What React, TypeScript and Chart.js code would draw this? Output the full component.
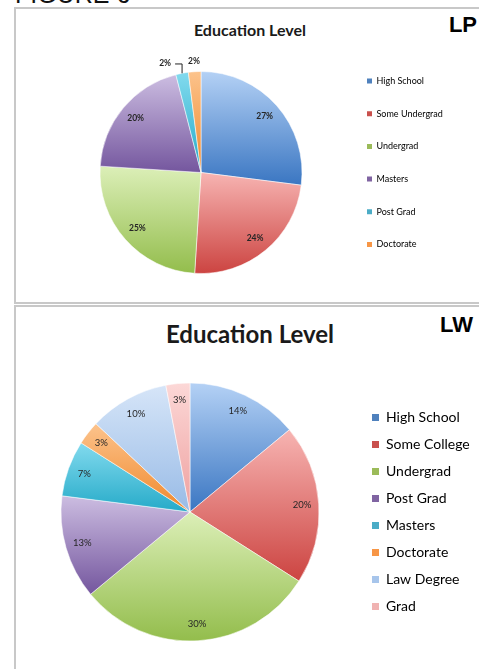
import React, { useEffect, useRef } from 'react';
import { Chart, registerables } from 'chart.js';

Chart.register(...registerables);

// ---------- data ----------
const figureLabel = 'FIGURE 6';
const chartTitle = 'Education Level';
const lpTag = 'LP';
const lwTag = 'LW';

const lpCategories = ['High School', 'Some Undergrad', 'Undergrad', 'Masters', 'Post Grad', 'Doctorate'];
const lpValues = [27, 24, 25, 20, 2, 2];

const lwCategories = ['High School', 'Some College', 'Undergrad', 'Post Grad', 'Masters', 'Doctorate', 'Law Degree', 'Grad'];
const lwValues = [14, 20, 30, 13, 7, 3, 10, 3];

// ---------- styles ----------
type Swatch = { light: string; dark: string; solid: string };
const BLUE: Swatch = { light: '#b4d1f5', dark: '#3a76c2', solid: '#4f81bd' };
const RED: Swatch = { light: '#f7b4b2', dark: '#cc4441', solid: '#c9504d' };
const GREEN: Swatch = { light: '#dcefb8', dark: '#93bd4c', solid: '#9bbb59' };
const PURPLE: Swatch = { light: '#ccbde1', dark: '#74569e', solid: '#8064a2' };
const CYAN: Swatch = { light: '#82daee', dark: '#25aac8', solid: '#4bacc6' };
const ORANGE: Swatch = { light: '#fcc38c', dark: '#f0882b', solid: '#f79646' };
const LIGHTBLUE: Swatch = { light: '#d6e5f8', dark: '#98bbe6', solid: '#a7c5eb' };
const PINK: Swatch = { light: '#fcd8d7', dark: '#eea09f', solid: '#f0b3b2' };

const lpColors = [BLUE, RED, GREEN, PURPLE, CYAN, ORANGE];
const lwColors = [BLUE, RED, GREEN, PURPLE, CYAN, ORANGE, LIGHTBLUE, PINK];

const FONT = 'Lato, "Open Sans", sans-serif';

type PieSpec = {
  labels: string[];
  values: number[];
  colors: Swatch[];
  box: { left: number; top: number; width: number; height: number };
  center: [number, number];
  radius: number;
  legendFont: number;
  legendBox: number;
  legendGap: number;
  legendBoxX: number;
  legendFirstY: number;
  legendAlign: 'start' | 'center';
  labelFont: number;
  labelWeight: string;
  labelRadius: number;
};

const lpSpec: PieSpec = {
  labels: lpCategories,
  values: lpValues,
  colors: lpColors,
  box: { left: 14, top: 8, width: 465, height: 292 },
  center: [201, 172.5],
  radius: 101,
  legendFont: 9,
  legendBox: 5,
  legendGap: 32.7,
  legendBoxX: 367,
  legendFirstY: 81,
  legendAlign: 'start',
  labelFont: 8.5,
  labelWeight: 'bold',
  labelRadius: 0.84,
};

const lwSpec: PieSpec = {
  labels: lwCategories,
  values: lwValues,
  colors: lwColors,
  box: { left: 14, top: 308, width: 465, height: 420 },
  center: [190, 512],
  radius: 129,
  legendFont: 14,
  legendBox: 7,
  legendGap: 27,
  legendBoxX: 372,
  legendFirstY: 418,
  legendAlign: 'center',
  labelFont: 9.5,
  labelWeight: 'normal',
  labelRadius: 0.87,
};

// gradient per slice, vertical across the slice's bounding box
function sliceFill(spec: PieSpec) {
  return (ctx: any) => {
    const i = ctx.dataIndex;
    const sw = spec.colors[i];
    const chart = ctx.chart;
    const area = chart.chartArea;
    if (!area || i === undefined) return sw.solid;
    const cx = (area.left + area.right) / 2;
    const cy = (area.top + area.bottom) / 2;
    const R = spec.radius;
    const vals = spec.values;
    const total = vals.reduce((a, b) => a + b, 0);
    let before = 0;
    for (let k = 0; k < i; k++) before += vals[k];
    const a0 = (before / total) * Math.PI * 2;
    const a1 = ((before + vals[i]) / total) * Math.PI * 2;
    const ys = [cy, cy - R * Math.cos(a0), cy - R * Math.cos(a1)];
    if (a0 < Math.PI && a1 > Math.PI) ys.push(cy + R);
    const y0 = Math.min(...ys);
    const y1 = Math.max(...ys);
    const g = chart.ctx.createLinearGradient(0, y0, 0, y1 + 0.01);
    g.addColorStop(0, sw.light);
    g.addColorStop(1, sw.dark);
    return g;
  };
}

const pctLabelPlugin = {
  id: 'pctLabels',
  afterDatasetsDraw(chart: any, _args: any, opts: any) {
    const ctx = chart.ctx as CanvasRenderingContext2D;
    const meta = chart.getDatasetMeta(0);
    const data = chart.data.datasets[0].data as number[];
    ctx.save();
    ctx.font = `${opts.weight} ${opts.size}px ${FONT}`;
    ctx.fillStyle = '#262626';
    ctx.textAlign = 'center';
    ctx.textBaseline = 'middle';
    const outside: any[] = [];
    meta.data.forEach((arc: any, i: number) => {
      const p = arc.getProps(['x', 'y', 'startAngle', 'endAngle', 'outerRadius'], true);
      const mid = (p.startAngle + p.endAngle) / 2;
      const text = `${data[i]}%`;
      if (data[i] <= opts.outsideMax) {
        const r = p.outerRadius + 10;
        outside.push({
          text,
          x: p.x + Math.cos(mid) * r,
          y: p.y + Math.sin(mid) * r,
          ax: p.x + Math.cos(mid) * p.outerRadius,
          ay: p.y + Math.sin(mid) * p.outerRadius,
          w: ctx.measureText(text).width,
          moved: false,
        });
      } else {
        const r = p.outerRadius * opts.radiusFactor;
        ctx.fillText(text, p.x + Math.cos(mid) * r, p.y + Math.sin(mid) * r);
      }
    });
    for (let k = outside.length - 2; k >= 0; k--) {
      const a = outside[k];
      const b = outside[k + 1];
      const minGap = 17;
      if (a.x + a.w / 2 + minGap > b.x - b.w / 2) {
        a.x = b.x - b.w / 2 - minGap - a.w / 2;
        a.moved = true;
      }
    }
    outside.forEach((o) => {
      ctx.fillText(o.text, o.x, o.y);
      if (o.moved) {
        ctx.beginPath();
        ctx.strokeStyle = '#222';
        ctx.lineWidth = 1;
        ctx.moveTo(o.x + o.w / 2 + 4, o.y + 0.5);
        ctx.lineTo(o.ax, o.y + 0.5);
        ctx.lineTo(o.ax, o.ay);
        ctx.stroke();
      }
    });
    ctx.restore();
  },
};

function PieChart({ spec }: { spec: PieSpec }) {
  const ref = useRef<HTMLCanvasElement>(null);
  useEffect(() => {
    if (!ref.current) return;
    const { box } = spec;
    const ih = Math.max(spec.legendFont, spec.legendBox);
    const pad = spec.legendGap - ih;
    const cxC = spec.center[0] - box.left;
    const cyC = spec.center[1] - box.top;
    const legendLeft = spec.legendBoxX - box.left - pad;

    // measure legend text to fix the legend width
    const mctx = document.createElement('canvas').getContext('2d')!;
    mctx.font = `normal ${spec.legendFont}px ${FONT}`;
    const maxText = Math.max(...spec.labels.map((t) => mctx.measureText(t).width));
    const legendW = Math.ceil(pad + spec.legendBox + spec.legendFont / 2 + maxText + 3);

    const padT = spec.legendAlign === 'start' ? spec.legendFirstY - box.top - pad - ih / 2 : 10;
    const padB = box.height + padT - 2 * cyC;
    const padL = 2 * cxC - legendLeft;
    const padR = box.width - legendLeft - legendW;

    const chart = new Chart(ref.current, {
      type: 'pie',
      data: {
        labels: spec.labels,
        datasets: [
          {
            data: spec.values,
            backgroundColor: sliceFill(spec) as any,
            borderColor: 'rgba(255,255,255,0.7)',
            borderWidth: 0.75,
          },
        ],
      },
      options: {
        responsive: false,
        animation: false,
        events: [],
        radius: spec.radius,
        layout: { padding: { top: padT, bottom: padB, left: padL, right: padR } },
        plugins: {
          tooltip: { enabled: false },
          title: { display: false },
          legend: {
            position: 'right',
            align: spec.legendAlign,
            maxWidth: legendW,
            labels: {
              font: { family: FONT, size: spec.legendFont },
              color: '#222',
              boxWidth: spec.legendBox,
              boxHeight: spec.legendBox,
              padding: pad,
              generateLabels: () =>
                spec.labels.map((t, i) => ({
                  text: t,
                  fillStyle: spec.colors[i].solid,
                  strokeStyle: spec.colors[i].solid,
                  lineWidth: 0,
                  hidden: false,
                  index: i,
                  datasetIndex: 0,
                })),
            },
          },
          pctLabels: { size: spec.labelFont, weight: spec.labelWeight, radiusFactor: spec.labelRadius, outsideMax: 2 },
        } as any,
      } as any,
      plugins: [pctLabelPlugin],
    });
    return () => chart.destroy();
  }, [spec]);
  return (
    <canvas
      ref={ref}
      width={spec.box.width}
      height={spec.box.height}
      style={{ position: 'absolute', left: spec.box.left, top: spec.box.top, width: spec.box.width, height: spec.box.height }}
    />
  );
}

export default function App() {
  const panel: React.CSSProperties = {
    position: 'absolute',
    left: 14,
    width: 480,
    boxSizing: 'border-box',
    border: '2px solid #c8c8c8',
    background: '#fff',
  };
  const title = (top: number, size: number): React.CSSProperties => ({
    position: 'absolute',
    left: 130,
    width: 240,
    top,
    textAlign: 'center',
    fontFamily: FONT,
    fontWeight: 700,
    fontSize: size,
    lineHeight: `${size}px`,
    color: '#1a1a1a',
    whiteSpace: 'nowrap',
  });
  const tag = (top: number, right: number): React.CSSProperties => ({
    position: 'absolute',
    right,
    top,
    fontFamily: '"Liberation Sans", Arial, sans-serif',
    fontWeight: 700,
    fontSize: 22,
    lineHeight: '22px',
    color: '#000',
  });
  return (
    <div style={{ position: 'absolute', left: 0, top: 0, width: 479, height: 669, overflow: 'hidden', background: '#fff' }}>
      <div
        style={{
          position: 'absolute',
          left: 15,
          top: -18,
          fontFamily: '"Liberation Sans", Arial, sans-serif',
          fontSize: 25,
          lineHeight: '25px',
          color: '#111',
          whiteSpace: 'nowrap',
        }}
      >
        {figureLabel}
      </div>
      <div style={{ ...panel, top: 7, height: 297 }} />
      <div style={{ ...panel, top: 305, height: 420 }} />
      <div style={title(21.8, 16)}>{chartTitle}</div>
      <div style={tag(14.4, 2)}>{lpTag}</div>
      <div style={title(321.7, 24)}>{chartTitle}</div>
      <div style={tag(314.4, 6)}>{lwTag}</div>
      <PieChart spec={lpSpec} />
      <PieChart spec={lwSpec} />
    </div>
  );
}
